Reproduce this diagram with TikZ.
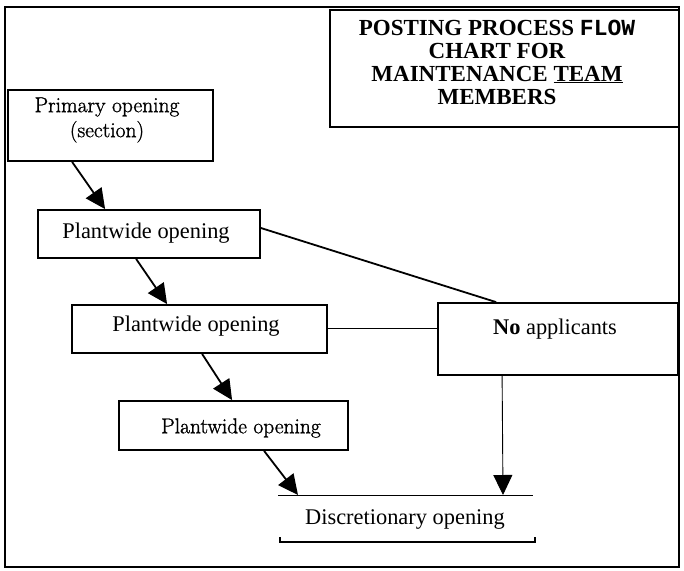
\documentclass[tikz,border=0pt]{standalone}
\usepackage{fontspec}
\setmainfont{Liberation Serif}
\newfontfamily\lmfont[FakeBold=1.2]{Latin Modern Roman}
\newfontfamily\monofont{Liberation Mono}
\usetikzlibrary{arrows.meta}
\begin{document}
\begin{tikzpicture}[x=1pt,y=-1pt,
  box/.style={draw, line width=1.8pt, inner sep=0pt, rectangle},
  txt/.style={inner sep=0pt, font=\fontsize{22.4}{24}\selectfont},
  lmtxt/.style={inner sep=0pt, font=\lmfont\fontsize{21.5}{25}\selectfont},
  arr/.style={line width=1.8pt, -{Triangle[length=20pt,width=19pt]}},
  thinarr/.style={line width=0.9pt, -{Triangle[length=20pt,width=19pt]}},
  thick line/.style={line width=1.8pt},
  thin line/.style={line width=0.9pt}]
\useasboundingbox (0,0) rectangle (684,570);
% outer frame
\draw[line width=1.8pt] (5,7) rectangle (679,567);
% title
\node[box, minimum width=349pt, minimum height=117pt] (title) at (504.5,68.5) {};
\node[inner sep=0pt, align=center, font=\bfseries\fontsize{23}{23}\selectfont] (titletext) at (497,62)
  {POSTING PROCESS {\monofont\bfseries FLOW}\\CHART FOR\\MAINTENANCE \underline{TEAM}\\MEMBERS};
% boxes
\node[box, minimum width=205pt, minimum height=71pt] (prim) at (110.5,125.5) {};
\node[lmtxt, align=center] (primtext) at (107,120) {Primary opening\\(section)};
\node[box, minimum width=222pt, minimum height=48pt] (pw1) at (149,234) {};
\node[txt] (pw1text) at (146,233) {Plantwide opening};
\node[box, minimum width=255pt, minimum height=48pt] (pw2) at (199.5,329) {};
\node[txt] (pw2text) at (196,326) {Plantwide opening};
\node[box, minimum width=229pt, minimum height=49pt] (pw3) at (233.5,425.5) {};
\node[lmtxt] (pw3text) at (241,428) {Plantwide opening};
\node[box, minimum width=240pt, minimum height=72pt] (noapp) at (558,339) {};
\node[txt] (noapptext) at (555,329) {\textbf{No} applicants};
% discretionary
\coordinate (dl) at (278,495);
\coordinate (dr) at (533,495);
\draw[thin line] (dl) -- (dr);
\node[txt] (disc) at (405,519) {Discretionary opening};
\draw[line width=1.4pt] (280,537) -- (280,542) -- (535,542) -- (535,537);
% connectors
\draw[arr] ([xshift=65pt]prim.south west) -- ([xshift=68pt]pw1.north west);
\draw[arr] ([xshift=99pt]pw1.south west) -- ([xshift=96pt]pw2.north west);
\draw[arr] ([xshift=131pt]pw2.south west) -- ([xshift=114pt]pw3.north west);
\coordinate (d4) at (298,495);
\draw[arr] ([xshift=146pt]pw3.south west) -- (d4);
\draw[thick line] (pw1.east |- 0,228) -- ([xshift=59pt]noapp.north west);
\draw[thin line] (pw2.east |- 0,328) -- (noapp.west |- 0,328);
\coordinate (d5) at (503,495);
\draw[thinarr] ([xshift=65pt]noapp.south west) -- (d5);
\end{tikzpicture}
\end{document}
